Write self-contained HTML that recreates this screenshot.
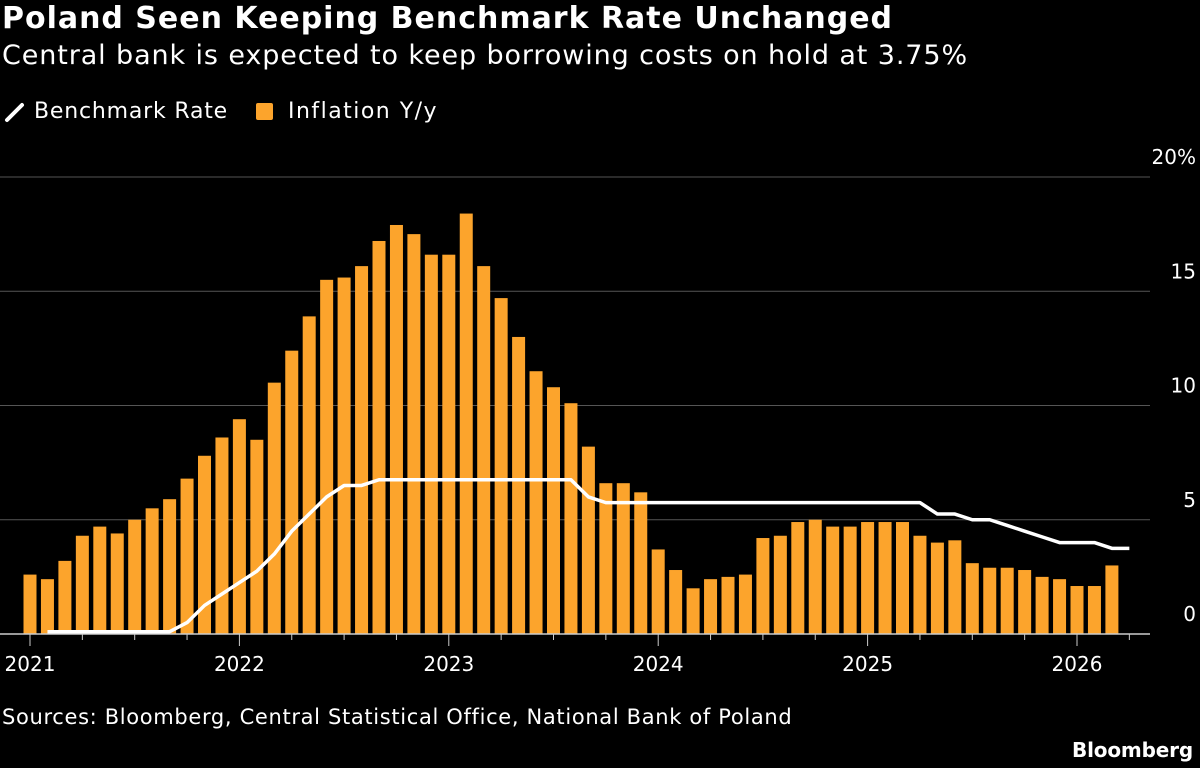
<!DOCTYPE html>
<html><head><meta charset="utf-8">
<style>
body{margin:0;background:#000;width:1200px;height:768px;overflow:hidden;font-family:"DejaVu Sans",sans-serif;color:#fff}
.f{position:absolute;white-space:nowrap}
.t{left:2px;top:1px;font-size:30px;font-weight:bold}
.s{left:2px;top:40px;font-size:27px}
.lg{position:absolute;top:99px;font-size:22px;display:flex;align-items:center}
.src{left:2px;top:705px;font-size:21px}
.bb{left:1072px;top:738px;font-size:20px;font-weight:bold}
</style></head><body>
<div class="f t" data-w="891">Poland Seen Keeping Benchmark Rate Unchanged</div>
<div class="f s" data-w="966">Central bank is expected to keep borrowing costs on hold at 3.75%</div>
<div class="lg" style="left:4px"><svg width="22" height="22"><line x1="3" y1="19" x2="18" y2="4" stroke="#fff" stroke-width="4" stroke-linecap="round"/></svg><span class="fi" data-w="194" style="margin-left:8px;white-space:nowrap">Benchmark Rate</span></div>
<div class="lg" style="left:256px"><span style="display:inline-block;width:17px;height:17px;background:#fca42c;border-radius:2px"></span><span class="fi" data-w="150" style="margin-left:15px;white-space:nowrap">Inflation Y/y</span></div>
<svg id="c" width="1200" height="768" style="position:absolute;left:0;top:0"></svg>
<div class="f src" data-w="790">Sources: Bloomberg, Central Statistical Office, National Bank of Poland</div>
<div class="f bb" data-w="121">Bloomberg</div>
<script>
const inflation=[2.6,2.4,3.2,4.3,4.7,4.4,5.0,5.5,5.9,6.8,7.8,8.6,
9.4,8.5,11.0,12.4,13.9,15.5,15.6,16.1,17.2,17.9,17.5,16.6,
16.6,18.4,16.1,14.7,13.0,11.5,10.8,10.1,8.2,6.6,6.6,6.2,
3.7,2.8,2.0,2.4,2.5,2.6,4.2,4.3,4.9,5.0,4.7,4.7,
4.9,4.9,4.9,4.3,4.0,4.1,3.1,2.9,2.9,2.8,2.5,2.4,
2.1,2.1,3.0];
const rateStart=1;
const rate=[0.1,0.1,0.1,0.1,0.1,0.1,0.1,0.1,0.5,1.25,1.75,
2.25,2.75,3.5,4.5,5.25,6.0,6.5,6.5,6.75,6.75,6.75,6.75,
6.75,6.75,6.75,6.75,6.75,6.75,6.75,6.75,6.0,5.75,5.75,5.75,
5.75,5.75,5.75,5.75,5.75,5.75,5.75,5.75,5.75,5.75,5.75,5.75,
5.75,5.75,5.75,5.75,5.25,5.25,5.0,5.0,4.75,4.5,4.25,4.0,
4.0,4.0,3.75,3.75];
const yTicks=[0,5,10,15,20];
const yLabels=["0","5","10","15","20%"];
const years=["2021","2022","2023","2024","2025","2026"];
const svg=document.getElementById('c');const NS='http://www.w3.org/2000/svg';
const x=i=>30+i*17.45;
const y=v=>634-v*22.85;
function mk(t,a){const e=document.createElementNS(NS,t);for(const k in a)e.setAttribute(k,a[k]);svg.appendChild(e);return e;}
yTicks.forEach((v,i)=>{
 if(v>0){const g=mk('line',{x1:0,x2:1150,y1:y(v),y2:y(v),stroke:'#555','stroke-width':1});
 }
 const t=mk('text',{x:1196,y:y(v)-13,'text-anchor':'end',fill:'#fff','font-size':20,'font-family':'DejaVu Sans'});
 t.textContent=yLabels[i];
 
});
inflation.forEach((v,i)=>{
 const r=mk('rect',{x:x(i)-6.5,y:y(v),width:13,height:y(0)-y(v),fill:'#fca42c'});
 
});
const ax=mk('line',{x1:0,x2:1150,y1:y(0),y2:y(0),stroke:'#ccc','stroke-width':1.5});

for(let m=0;m<=63;m+=3){const tk=mk('line',{x1:x(m),x2:x(m),y1:y(0),y2:y(0)+(m%12==0?12:6),stroke:'#ccc','stroke-width':1});
 }
years.forEach((s,i)=>{const t=mk('text',{x:x(i*12),y:671,'text-anchor':'middle',fill:'#fff','font-size':20,'font-family':'DejaVu Sans'});
 t.textContent=s;});
const pts=rate.map((v,i)=>x(i+rateStart)+','+y(v)).join(' ');
const pl=mk('polyline',{points:pts,fill:'none',stroke:'#fff','stroke-width':3.5,'stroke-linejoin':'round'});

document.querySelectorAll('[data-w]').forEach(el=>{
 const w=el.getBoundingClientRect().width,tw=+el.dataset.w,n=el.textContent.length;
 el.style.letterSpacing=((tw-w)/n)+'px';
});
</script>
</body></html>
